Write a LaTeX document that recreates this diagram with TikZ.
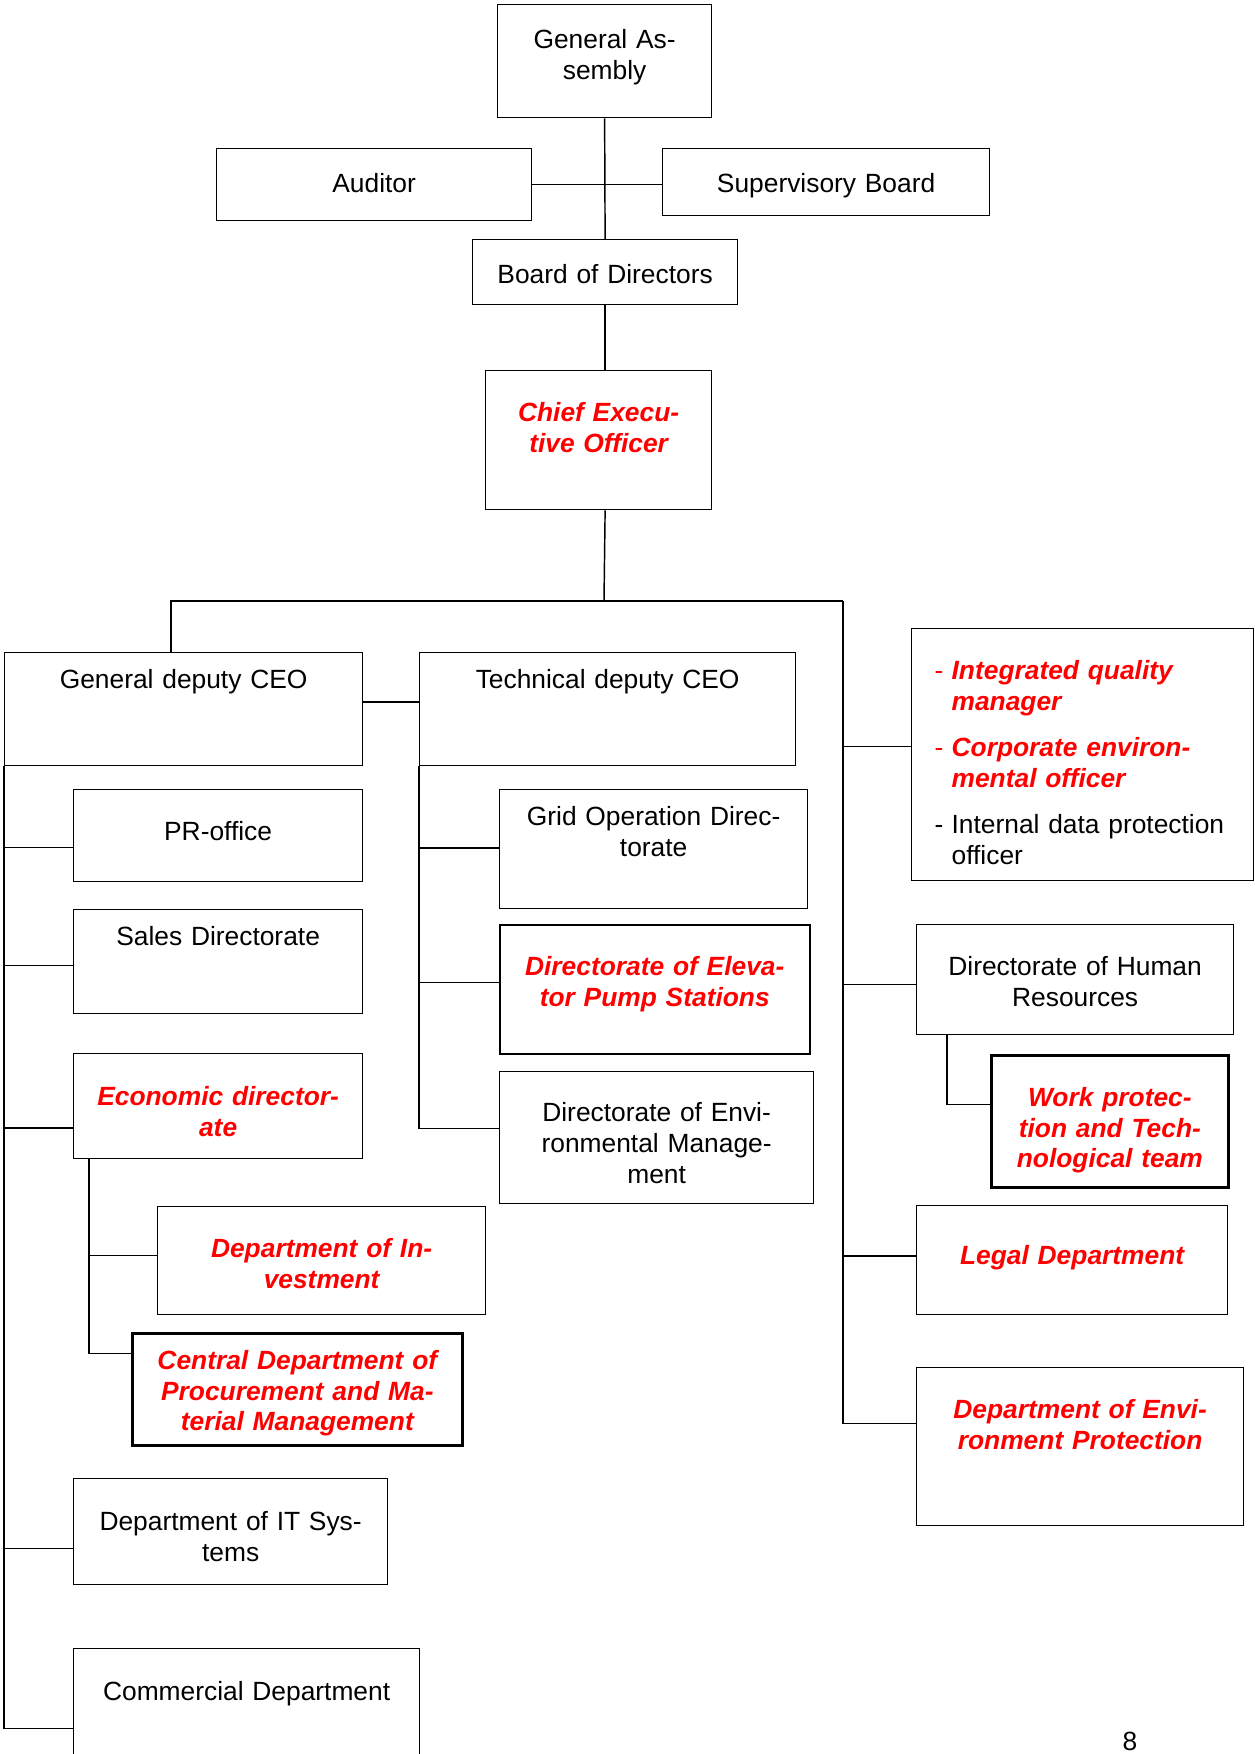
\documentclass[tikz,border=0pt]{standalone}
\usepackage{fontspec}
\setmainfont{Liberation Sans}
\usetikzlibrary{positioning}
\newlength\pxl
\setlength\pxl{0.16933mm}
\newcommand\orgfont{\fontsize{12.7pt}{14.8pt}\selectfont}
\begin{document}
\begin{tikzpicture}[x=\pxl, y=-\pxl,
    box/.style={draw, line width=0.6pt, anchor=north west, inner sep=0pt,
      align=center, font=\orgfont},
    hot/.style={text=red, font=\orgfont\bfseries\itshape},
    heavy/.style={line width=1.3pt},
    boxsize/.style 2 args={minimum width=#1\pxl, minimum height=#2\pxl, text width=#1\pxl},
    textat/.style 2 args={text height=#1\pxl, text depth=#2\pxl},
    link/.style={line width=0.7pt}]
    \useasboundingbox (0,0) rectangle (1254,1754);

    \node[box, boxsize={214}{113}, textat={44}{69}] (ga) at (497,4) {General As-\\sembly};
    \node[box, boxsize={315}{72}, textat={44}{28}] (aud) at (216,148) {Auditor};
    \node[box, boxsize={327}{67}, textat={44}{23}] (sup) at (662,148) {Supervisory Board};
    \node[box, boxsize={265}{65}, textat={44}{21}] (bod) at (472,239) {Board of Directors};
    \node[box, hot, boxsize={226}{139}, textat={51}{88}] (ceo) at (485,370) {Chief Execu-\\tive Officer};

    \node[box, boxsize={358}{113}, textat={36}{77}] (gdc) at (4,652) {General deputy CEO};
    \node[box, boxsize={376}{113}, textat={36}{77}] (tdc) at (419,652) {Technical deputy CEO};

    \node[box, boxsize={289}{92}, textat={51}{41}] (pr) at (73,789) {PR-office};
    \node[box, boxsize={289}{104}, textat={36}{68}] (sales) at (73,909) {Sales Directorate};
    \node[box, hot, boxsize={289}{105}, textat={52}{53}] (econ) at (73,1053) {Economic director-\\ate};
    \node[box, hot, boxsize={328}{108}, textat={51}{57}] (inv) at (157,1206) {Department of In-\\vestment};
    \node[box, hot, heavy, boxsize={330}{112}, textat={36}{76}] (proc) at (131,1332) {Central Department of\\Procurement and Ma-\\terial Management};
    \node[box, boxsize={314}{106}, textat={52}{54}] (it) at (73,1478) {Department of IT Sys-\\tems};
    \node[box, boxsize={346}{112}, textat={52}{60}] (com) at (73,1648) {Commercial Department};

    \node[box, boxsize={308}{119}, textat={36}{83}] (grid) at (499,789) {Grid Operation Direc-\\torate};
    \node[box, hot, line width=0.75pt, boxsize={310}{129}, textat={51}{78}] (elev) at (499,924) {Directorate of Eleva-\\tor Pump Stations};
    \node[box, boxsize={314}{132}, textat={50}{82}] (envm) at (499,1071) {Directorate of Envi-\\ronmental Manage-\\ment};

    \node[box, align=left, inner xsep=23\pxl, boxsize={342}{252}, text width=296\pxl, textat={51}{201}] (duty) at (911,628)
      {\textcolor{red}{\makebox[17\pxl][l]{-}\bfseries\itshape Integrated quality\\\hspace*{17\pxl}manager}\\[7.5pt]
       \textcolor{red}{\makebox[17\pxl][l]{-}\bfseries\itshape Corporate environ-\\\hspace*{17\pxl}mental officer}\\[7.5pt]
       \makebox[17\pxl][l]{-}Internal data protection\\\hspace*{17\pxl}officer};
    \node[box, boxsize={317}{110}, textat={51}{59}] (hr) at (916,924) {Directorate of Human\\Resources};
    \node[box, hot, heavy, boxsize={237}{132}, textat={51}{81}] (work) at (990,1054) {Work protec-\\tion and Tech-\\nological team};
    \node[box, hot, boxsize={311}{109}, textat={59}{50}] (legal) at (916,1205) {Legal Department};
    \node[box, hot, boxsize={327}{158}, textat={51}{107}] (envp) at (916,1367) {Department of Envi-\\ronment Protection};

    \node[font=\orgfont, anchor=base] (pagenum) at (1130,1750) {8};

    \coordinate (busl) at (171,601);
    \coordinate (busc) at (604,601);
    \coordinate (busr) at (843,601);
    \coordinate (econbus) at ([xshift=16\pxl]econ.south west);
    \coordinate (hrbus) at ([xshift=31\pxl]hr.south west);

    \draw[link] (ga.south) -- (bod.north);
    \draw[link] (aud.east) -- (aud.east -| sup.west);
    \draw[link] (bod.south) -- (bod.south |- ceo.north);
    \draw[link] (bod.south |- ceo.south) -- (busc);
    \draw[link] (busl |- gdc.north) -- (busl) -- (busr);
    \draw[link] ([yshift=7\pxl]gdc.east) -- ([yshift=7\pxl]gdc.east -| tdc.west);
    \foreach \n/\s in {pr/-12, sales/-4, econ/-22, it/-17, com/-24}
      \draw[link] ([yshift=\s\pxl]\n.west) -| (gdc.south west);
    \foreach \n/\s in {grid/1, elev/7, envm/9}
      \draw[link] ([yshift=\s\pxl]\n.west) -| (tdc.south west);
    \foreach \n/\s in {duty/8, hr/-5, legal/4, envp/23}
      \draw[link] ([yshift=\s\pxl]\n.west) -| (busr);
    \foreach \n/\s in {inv/5, proc/36}
      \draw[link] ([yshift=\s\pxl]\n.west) -| (econbus);
    \draw[link] ([yshift=17\pxl]work.west) -| (hrbus);
\end{tikzpicture}
\end{document}
